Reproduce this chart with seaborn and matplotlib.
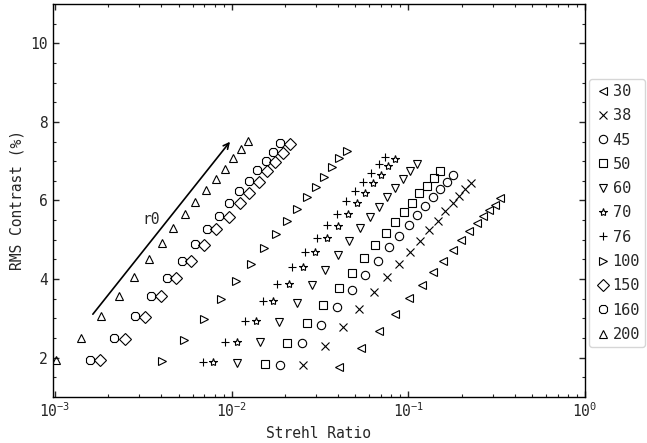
import matplotlib
matplotlib.use("Agg")
import matplotlib.pyplot as plt
import seaborn as sns
import numpy as np
import pandas as pd

labels = ["30", "38", "45", "50", "60", "70", "76", "100", "150", "160", "200"]
markers = ["<", "x", "o", "s", "v", "*", "+", ">", "D", "8", "^"]

x_30 = [4.064e-2, 5.372e-2, 6.845e-2, 8.430e-2, 1.012e-1, 1.194e-1, 1.383e-1, 1.576e-1, 1.781e-1, 1.992e-1, 2.212e-1, 2.435e-1, 2.655e-1, 2.870e-1, 3.078e-1, 3.299e-1]
y_30 = [1.76, 2.24, 2.69, 3.12, 3.51, 3.86, 4.18, 4.47, 4.74, 4.99, 5.21, 5.42, 5.60, 5.76, 5.89, 6.06]
x_38 = [2.542e-2, 3.360e-2, 4.281e-2, 5.273e-2, 6.388e-2, 7.594e-2, 8.884e-2, 1.021e-1, 1.163e-1, 1.313e-1, 1.471e-1, 1.617e-1, 1.781e-1, 1.942e-1, 2.099e-1, 2.270e-1]
y_38 = [1.80, 2.30, 2.79, 3.24, 3.66, 4.05, 4.39, 4.69, 4.98, 5.25, 5.48, 5.72, 5.93, 6.11, 6.28, 6.45]
x_45 = [1.876e-2, 2.499e-2, 3.189e-2, 3.959e-2, 4.796e-2, 5.703e-2, 6.730e-2, 7.796e-2, 8.884e-2, 1.004e-1, 1.123e-1, 1.246e-1, 1.373e-1, 1.510e-1, 1.648e-1, 1.795e-1]
y_45 = [1.82, 2.36, 2.84, 3.29, 3.73, 4.11, 4.47, 4.81, 5.10, 5.37, 5.62, 5.86, 6.08, 6.30, 6.48, 6.65]
x_50 = [1.549e-2, 2.064e-2, 2.657e-2, 3.299e-2, 4.032e-2, 4.796e-2, 5.608e-2, 6.497e-2, 7.469e-2, 8.430e-2, 9.444e-2, 1.048e-1, 1.153e-1, 1.269e-1, 1.396e-1, 1.510e-1]
y_50 = [1.84, 2.37, 2.88, 3.35, 3.76, 4.16, 4.53, 4.86, 5.16, 5.45, 5.71, 5.94, 6.18, 6.38, 6.57, 6.74]
x_60 = [1.076e-2, 1.445e-2, 1.860e-2, 2.334e-2, 2.847e-2, 3.387e-2, 3.996e-2, 4.629e-2, 5.322e-2, 6.063e-2, 6.790e-2, 7.594e-2, 8.430e-2, 9.284e-2, 1.021e-1, 1.114e-1]
y_60 = [1.87, 2.39, 2.91, 3.40, 3.86, 4.23, 4.62, 4.98, 5.29, 5.58, 5.83, 6.08, 6.31, 6.54, 6.74, 6.94]
x_70 = [7.866e-3, 1.067e-2, 1.372e-2, 1.719e-2, 2.102e-2, 2.522e-2, 2.972e-2, 3.449e-2, 3.996e-2, 4.552e-2, 5.098e-2, 5.703e-2, 6.330e-2, 6.970e-2, 7.664e-2, 8.430e-2]
y_70 = [1.88, 2.41, 2.93, 3.43, 3.88, 4.30, 4.68, 5.05, 5.35, 5.65, 5.93, 6.20, 6.45, 6.65, 6.87, 7.06]
x_76 = [6.853e-3, 9.201e-3, 1.194e-2, 1.497e-2, 1.812e-2, 2.194e-2, 2.589e-2, 3.027e-2, 3.475e-2, 3.959e-2, 4.436e-2, 5.006e-2, 5.557e-2, 6.166e-2, 6.790e-2, 7.402e-2]
y_76 = [1.88, 2.41, 2.93, 3.43, 3.88, 4.30, 4.68, 5.05, 5.37, 5.65, 5.98, 6.23, 6.47, 6.70, 6.92, 7.11]
x_100 = [4.032e-3, 5.370e-3, 6.969e-3, 8.668e-3, 1.058e-2, 1.281e-2, 1.523e-2, 1.781e-2, 2.064e-2, 2.350e-2, 2.657e-2, 3.000e-2, 3.331e-2, 3.694e-2, 4.064e-2, 4.476e-2]
y_100 = [1.91, 2.46, 2.98, 3.49, 3.95, 4.39, 4.78, 5.15, 5.48, 5.79, 6.08, 6.35, 6.60, 6.84, 7.07, 7.26]
x_150 = [1.798e-3, 2.480e-3, 3.218e-3, 3.964e-3, 4.840e-3, 5.907e-3, 6.969e-3, 8.150e-3, 9.616e-3, 1.114e-2, 1.258e-2, 1.422e-2, 1.591e-2, 1.765e-2, 1.944e-2, 2.138e-2]
y_150 = [1.95, 2.48, 3.03, 3.56, 4.03, 4.47, 4.87, 5.27, 5.59, 5.93, 6.20, 6.47, 6.75, 6.98, 7.21, 7.43]
x_160 = [1.578e-3, 2.158e-3, 2.825e-3, 3.508e-3, 4.287e-3, 5.232e-3, 6.173e-3, 7.277e-3, 8.508e-3, 9.691e-3, 1.104e-2, 1.258e-2, 1.396e-2, 1.563e-2, 1.719e-2, 1.876e-2]
y_160 = [1.95, 2.50, 3.05, 3.56, 4.03, 4.47, 4.88, 5.27, 5.60, 5.93, 6.23, 6.50, 6.77, 7.01, 7.24, 7.46]
x_200 = [1.013e-3, 1.398e-3, 1.814e-3, 2.294e-3, 2.812e-3, 3.418e-3, 4.032e-3, 4.672e-3, 5.420e-3, 6.223e-3, 7.155e-3, 8.150e-3, 9.129e-3, 1.013e-2, 1.124e-2, 1.237e-2]
y_200 = [1.95, 2.50, 3.05, 3.57, 4.06, 4.51, 4.91, 5.29, 5.65, 5.97, 6.26, 6.54, 6.81, 7.07, 7.30, 7.52]

xs = [x_30, x_38, x_45, x_50, x_60, x_70, x_76, x_100, x_150, x_160, x_200]
ys = [y_30, y_38, y_45, y_50, y_60, y_70, y_76, y_100, y_150, y_160, y_200]

sns.set_style("ticks")
plt.rcParams["font.family"] = ["DejaVu Sans Mono", "DejaVu Sans"]
plt.rcParams["mathtext.fontset"] = "dejavusans"

fig = plt.figure(figsize=(6.47, 4.43), dpi=100)
ax = fig.add_axes([0.0815, 0.104, 0.8227, 0.887])

for lab, mk, x, y in zip(labels, markers, xs, ys):
    df = pd.DataFrame({"x": x, "y": y})
    sns.lineplot(data=df, x="x", y="y", ax=ax, marker=mk, linestyle="",
                 color="black", markerfacecolor="none", markeredgecolor="black",
                 markeredgewidth=0.8, markersize=6, label=lab,
                 estimator=None, sort=False)

ax.set_xscale("log")
ax.set_xlim(0.00097, 1.0)
ax.set_ylim(1.0, 11.0)
ax.set_yticks([2, 4, 6, 8, 10])
ax.set_yticks(np.arange(1.5, 11.0, 0.5), minor=True)
ax.tick_params(which="both", direction="in", top=True, right=True, labelsize=10.5)
ax.tick_params(which="major", length=4, width=1)
ax.tick_params(which="minor", length=2.5, width=0.8)
for s in ax.spines.values():
    s.set_color("black")
    s.set_linewidth(1.0)

ax.set_xlabel("Strehl Ratio", fontsize=10.5)
ax.set_ylabel("RMS Contrast (%)", fontsize=10.5)

ax.annotate("", xy=(0.0100, 7.55), xytext=(0.0016, 3.05),
            arrowprops=dict(arrowstyle="->", color="black", lw=1.2))
ax.text(0.00348, 5.52, "r0", fontsize=10.5, ha="center", va="center")

leg = ax.legend(loc="upper left", bbox_to_anchor=(1.0, 0.82), fontsize=11,
                frameon=True, labelspacing=0.61, borderaxespad=0.25,
                handletextpad=0.0, handlelength=1.2, borderpad=0.35)

fig.savefig("out.png", dpi=100)
